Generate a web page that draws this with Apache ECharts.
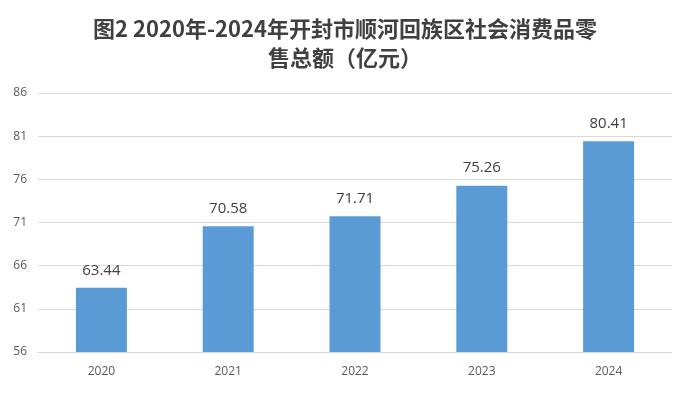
<!DOCTYPE html>
<html><head><meta charset="utf-8">
<script src="https://cdn.jsdelivr.net/npm/echarts@6/dist/echarts.min.js"></script>
<style>html,body{margin:0;padding:0;background:#fff}#c{width:690px;height:393px}</style>
</head><body><div id="c"></div>
<script>
const categories = ['2020', '2021', '2022', '2023', '2024'];
const values = [63.44, 70.58, 71.71, 75.26, 80.41];
const titleText = '图2 2020年-2024年开封市顺河回族区社会消费品零\n售总额（亿元）';

const chart = echarts.init(document.getElementById('c'), null, {renderer: 'canvas'});
chart.setOption({
  animation: false,
  backgroundColor: '#fff',
  title: {
    text: titleText,
    left: 'center',
    top: 9,
    textStyle: {fontFamily: '"Noto Sans CJK SC", sans-serif', fontSize: 22, fontWeight: 'bold', color: '#404040', lineHeight: 29}
  },
  grid: {left: 38, right: 18, top: 93, bottom: 41},
  xAxis: {
    type: 'category',
    data: categories,
    axisLine: {lineStyle: {color: '#d9d9d9'}},
    axisTick: {show: false},
    axisLabel: {color: '#595959', fontSize: 12, margin: 14, fontFamily: '"Open Sans", sans-serif'}
  },
  yAxis: {
    type: 'value',
    min: 56, max: 86, interval: 5,
    axisLine: {show: false},
    axisTick: {show: false},
    splitLine: {lineStyle: {color: '#d9d9d9'}},
    axisLabel: {color: '#595959', fontSize: 12, margin: 11, fontFamily: '"Open Sans", sans-serif'}
  },
  series: [{
    type: 'bar',
    data: values,
    barWidth: 51,
    itemStyle: {color: '#5b9bd5'},
    label: {show: true, position: 'top', distance: 10, color: '#404040', fontSize: 15, fontFamily: '"Open Sans", sans-serif', formatter: p => p.value.toFixed(2)}
  }]
});
</script></body></html>
